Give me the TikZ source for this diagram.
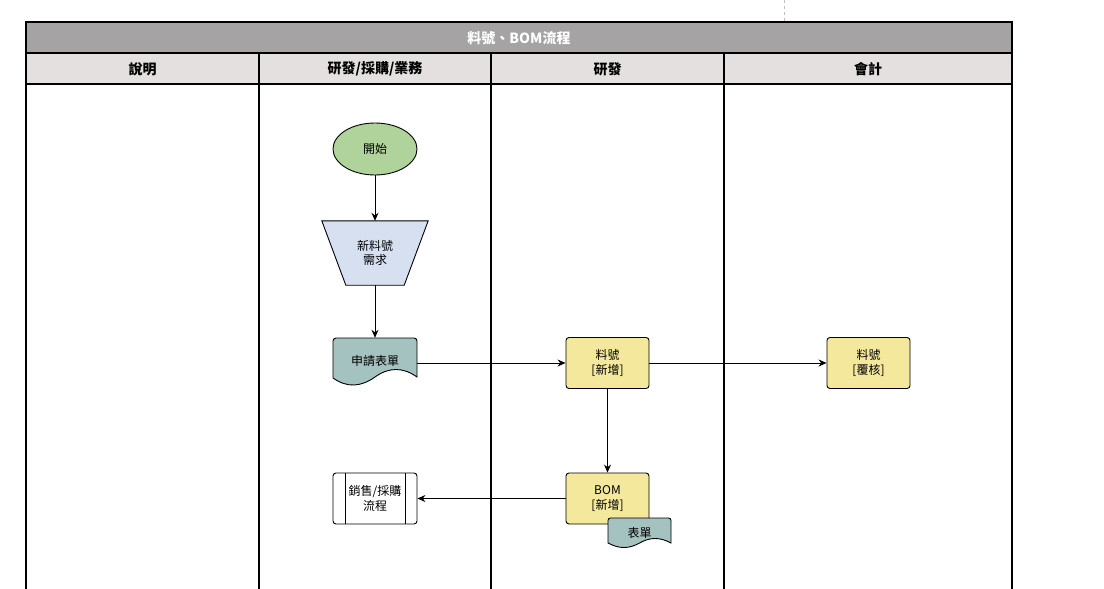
\documentclass[tikz,border=0pt]{standalone}
\usepackage{fontspec}
\setmainfont{Liberation Sans}
\newfontfamily\cjk{Noto Sans CJK TC}
\usetikzlibrary{arrows.meta,shapes.geometric}
\definecolor{titleG}{HTML}{A5A3A4}
\definecolor{headG}{HTML}{E3E0DF}
\definecolor{startG}{HTML}{B0D39C}
\definecolor{needB}{HTML}{D6E0F1}
\definecolor{docT}{HTML}{A4C2BF}
\definecolor{procY}{HTML}{F4E89C}
\tikzset{
  lane/.style={draw=black, line width=1.2pt},
  txt/.style={font=\cjk\fontsize{12}{14.5}\selectfont, align=center, text=black},
  hdr/.style={font=\cjk\bfseries\fontsize{14}{16}\selectfont},
  proc/.style={txt, draw, line width=0.9pt, rounded corners=3pt, fill=procY, minimum width=83pt, minimum height=51pt, inner sep=0pt},
  arr/.style={-{Stealth[length=8pt,width=7pt]}, line width=1pt},
  outl/.style={draw, line width=0.9pt}
}
\begin{document}
\begin{tikzpicture}[x=1pt,y=-1pt]
\useasboundingbox (0,0) rectangle (1104,589);
% dashed guide
\draw[gray!50, dashed, line width=0.8pt] (784,0) -- (784,22);
% title and header
\fill[titleG] (26,22) rectangle (1012,53);
\fill[headG] (26,53) rectangle (1012,84);
\draw[lane] (26,22) rectangle (1012,53);
\draw[lane] (26,53) -- (26,589);
\draw[lane] (1012,53) -- (1012,589);
\draw[lane] (26,84) -- (1012,84);
\draw[lane] (259,53) -- (259,589);
\draw[lane] (491,53) -- (491,589);
\draw[lane] (724,53) -- (724,589);
\node[hdr, text=white] (title) at (519,38) {料號、BOM流程};
\node[hdr] (h1) at (142.5,69) {說明};
\node[hdr] (h2) at (375,69) {研發/採購/業務};
\node[hdr] (h3) at (607.5,69) {研發};
\node[hdr] (h4) at (868,69) {會計};
% start
\node[txt, ellipse, outl, fill=startG, minimum width=84pt, minimum height=52pt, inner sep=0pt] (start) at (375,149) {開始};
% need trapezoid
\node[minimum width=106pt, minimum height=64pt, inner sep=0pt] (need) at (375,253) {};
\draw[outl, fill=needB] (need.north west) -- (need.north east) -- ([xshift=-24pt]need.south east) -- ([xshift=24pt]need.south west) -- cycle;
\node[txt] (needt) at (need.center) {新料號\\需求};
% form document
\node[minimum width=84pt, minimum height=42pt, inner sep=0pt] (form) at (375,359) {};
\draw[outl, fill=docT] (333,378) -- (333,342) [rounded corners=3pt] -- (333,338) -- (417,338) [sharp corners] -- (417,342) -- (417,377)
  .. controls (403,367) and (389,367) .. (375,377) .. controls (361,387) and (347,388) .. (333,378);
\node[txt] (formt) at (375,361) {申請表單};
% processes
\node[proc] (p1) at (607.5,363) {料號\\{[}新增{]}};
\node[proc] (p2) at (868.5,363) {料號\\{[}覆核{]}};
\node[proc] (bom) at (607.5,498.5) {BOM\\{[}新增{]}};
% small form doc
\node[minimum width=63pt, minimum height=28pt, inner sep=0pt] (form2) at (639.5,531) {};
\draw[outl, fill=docT] (608,543) -- (608,521) [rounded corners=2.5pt] -- (608,518) -- (671,518) [sharp corners] -- (671,521) -- (671,543)
  .. controls (660,537) and (650,537) .. (639.5,543) .. controls (629,549) and (619,549) .. (608,543);
\node[txt] (form2t) at (639.5,533) {表單};
% predefined process
\node[txt, outl, rounded corners=3pt, fill=white, minimum width=84pt, minimum height=51pt, inner sep=0pt] (sales) at (375,498.5) {銷售/採購\\流程};
\draw[line width=0.9pt] (345,473) -- (345,524);
\draw[line width=0.9pt] (405,473) -- (405,524);
% connectors
\draw[arr] (start.south) -- (need.north);
\draw[arr] (need.south) -- (form.north);
\draw[arr] (form.east |- p1.west) -- (p1.west);
\draw[arr] (p1.east) -- (p2.west);
\draw[arr] (p1.south) -- (bom.north);
\draw[arr] (bom.west) -- (sales.east);
\end{tikzpicture}
\end{document}
